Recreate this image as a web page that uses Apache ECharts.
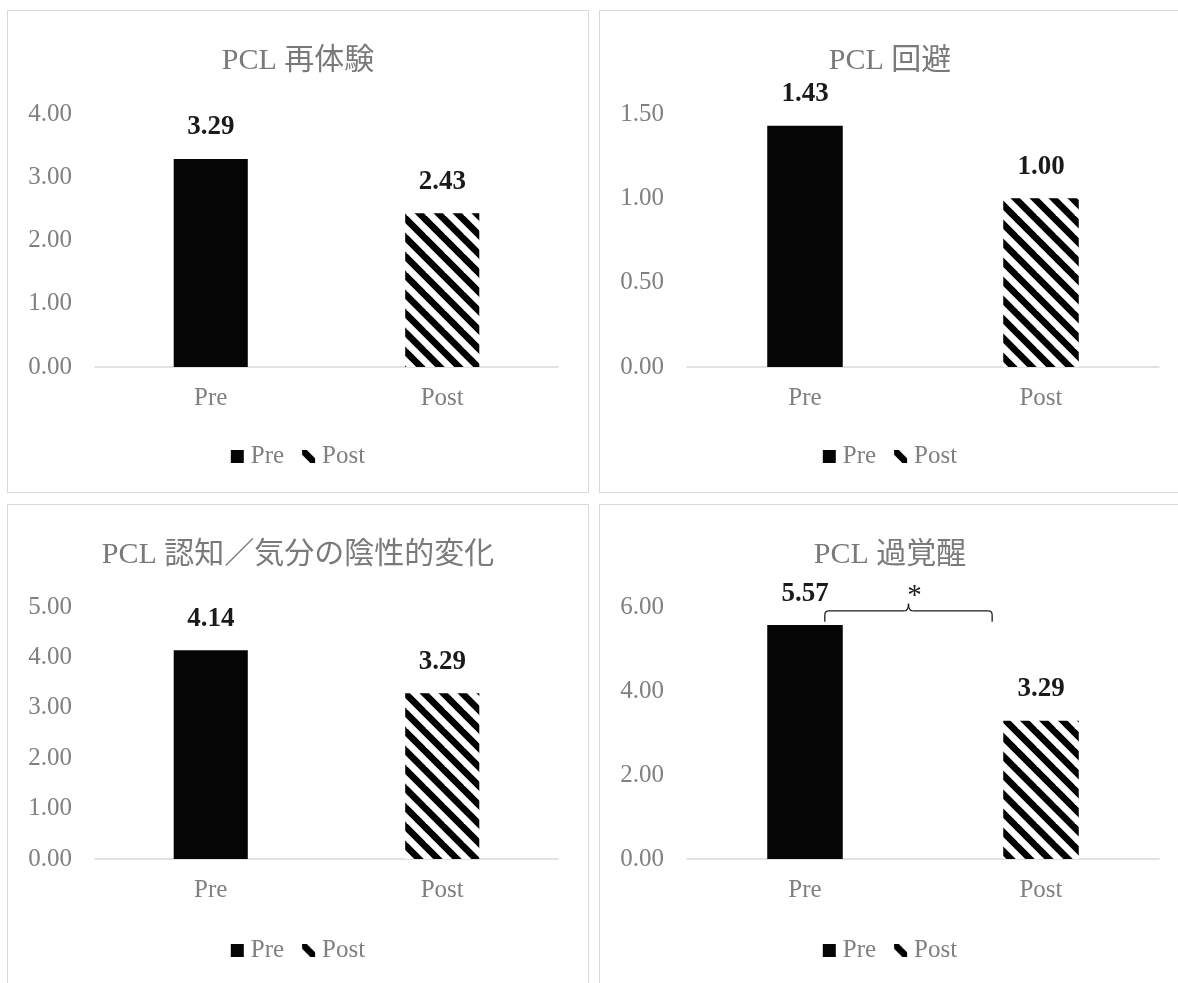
<!DOCTYPE html>
<html>
<head>
<meta charset="utf-8">
<script src="https://cdn.jsdelivr.net/npm/echarts@6/dist/echarts.min.js"></script>
<style>
  html, body { margin: 0; padding: 0; background: #fff; width: 1178px; height: 983px; overflow: hidden; }
  .panel { position: absolute; width: 582px; height: 483px; box-sizing: border-box; border: 1.5px solid #d9d9d9; background: #fff; }
</style>
</head>
<body>
<div class="panel" id="c0" style="left:7px; top:10px;"></div>
<div class="panel" id="c1" style="left:599px; top:10px;"></div>
<div class="panel" id="c2" style="left:7px; top:504px;"></div>
<div class="panel" id="c3" style="left:599px; top:504px;"></div>
<script>
// chart data
var titles = ['PCL 再体験', 'PCL 回避', 'PCL 認知／気分の陰性的変化', 'PCL 過覚醒']
var categories = ['Pre', 'Post']
var preValues = [3.29, 1.43, 4.14, 5.57]
var postValues = [2.43, 1.00, 3.29, 3.29]
var axisMax = [4, 1.5, 5, 6]
var axisStep = [1, 0.5, 1, 2]
var sigMarks = ['', '', '', '*']

var serif = '"Liberation Serif", "Noto Sans CJK JP", serif'
var grey = '#808080'
var ink = '#1a1a1a'

// diagonal stripes for the Post bars
function stripePattern(){
	var s = 19
	var c = document.createElement('canvas')
	c.width = s
	c.height = s
	var ctx = c.getContext('2d')
	ctx.fillStyle = '#fff'
	ctx.fillRect(0, 0, s, s)
	ctx.strokeStyle = '#000'
	ctx.lineWidth = s / (2 * Math.SQRT2)
	for (var k = -s; k <= s; k += s) {
		ctx.beginPath()
		ctx.moveTo(-s, -s + k)
		ctx.lineTo(2 * s, 2 * s + k)
		ctx.stroke()
	}
	return c
}
var stripes = {image: stripePattern(), repeat: 'repeat'}

function labelStyle(){
	return {
		show: true,
		position: 'top',
		distance: 18,
		fontFamily: serif,
		fontSize: 27,
		fontWeight: 'bold',
		color: ink,
		formatter: function(p){ return Number(p.value).toFixed(2) }
	}
}

function makeOption(i){
	return {
		animation: false,
		title: {
			text: titles[i],
			left: 'center',
			top: 30,
			textStyle: {fontFamily: serif, fontSize: 30, fontWeight: 'normal', color: '#7a7a7a'}
		},
		legend: {
			data: categories,
			left: 'center',
			top: 428,
			itemWidth: 13,
			itemHeight: 13,
			itemGap: 18,
			icon: 'rect',
			textStyle: {fontFamily: serif, fontSize: 25, color: grey, padding: [0, 0, 0, 2]}
		},
		grid: {left: 87, right: i % 2 ? 21 : 30, top: i < 2 ? 103 : 102, bottom: i < 2 ? 125 : 127},
		xAxis: {
			type: 'category',
			data: categories,
			axisLine: {lineStyle: {color: '#d9d9d9', width: 1.5}},
			axisTick: {show: false},
			axisLabel: {margin: 19, fontFamily: serif, fontSize: 25, color: grey}
		},
		yAxis: {
			type: 'value',
			min: 0,
			max: axisMax[i],
			interval: axisStep[i],
			splitLine: {show: false},
			axisLabel: {
				margin: 23,
				fontFamily: serif,
				fontSize: 25,
				color: grey,
				formatter: function(v){ return v.toFixed(2) }
			}
		},
		series: [
			{
				name: 'Pre',
				type: 'bar',
				barWidth: '32%',
				barGap: '-100%',
				data: [preValues[i], '-'],
				itemStyle: {color: '#050505'},
				label: labelStyle()
			},
			{
				name: 'Post',
				type: 'bar',
				barWidth: '32%',
				data: ['-', postValues[i]],
				itemStyle: {color: stripes},
				label: labelStyle()
			}
		]
	}
}

function seg(x1, y1, x2, y2){
	return {type: 'line', shape: {x1: x1, y1: y1, x2: x2, y2: y2}, style: {stroke: ink, lineWidth: 1.3}}
}
function curve(x1, y1, cx, cy, x2, y2){
	return {type: 'bezierCurve', shape: {x1: x1, y1: y1, cpx1: cx, cpy1: cy, x2: x2, y2: y2}, style: {stroke: ink, lineWidth: 1.3, fill: null}}
}

for (var i = 0; i < 4; i++) {
	var chart = echarts.init(document.getElementById('c' + i))
	chart.setOption(makeOption(i))
	if (sigMarks[i]) {
		// significance bracket between Pre and Post
		var bracketVal = Math.max(preValues[i], postValues[i]) + axisStep[i] * 0.17
		var p0 = chart.convertToPixel({gridIndex: 0}, [0, bracketVal])
		var p1 = chart.convertToPixel({gridIndex: 0}, [1, bracketVal])
		var L = p0[0] + 0.084 * (p1[0] - p0[0])
		var R = p0[0] + 0.793 * (p1[0] - p0[0])
		var C = (L + R) / 2
		var y = p0[1]
		chart.setOption({
			graphic: [
				seg(L, y + 11, L, y + 4),
				curve(L, y + 4, L, y, L + 4, y),
				seg(L + 4, y, C - 4, y),
				curve(C - 4, y, C, y, C, y - 7),
				curve(C, y - 7, C, y, C + 4, y),
				seg(C + 4, y, R - 4, y),
				curve(R - 4, y, R, y, R, y + 4),
				seg(R, y + 4, R, y + 11),
				{type: 'text', x: C + 6, y: y - 14, style: {text: sigMarks[i], fontFamily: serif, fontSize: 29, fill: ink, align: 'center', verticalAlign: 'middle'}}
			]
		})
	}
}
</script>
</body>
</html>
